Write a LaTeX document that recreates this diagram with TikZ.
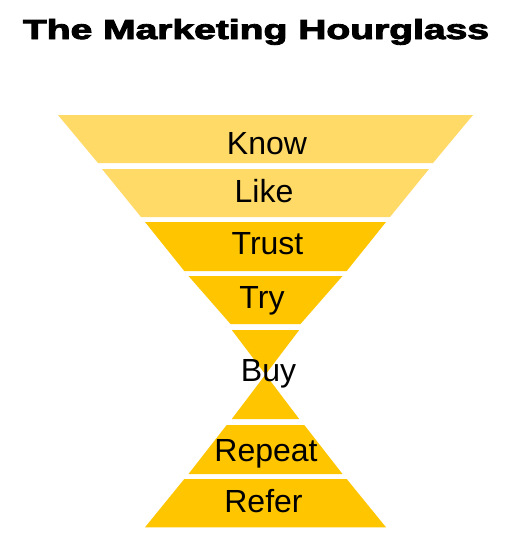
\documentclass[tikz,border=0pt]{standalone}
\usepackage{fontspec}
\usepackage{graphicx}
\setmainfont{Liberation Sans}
\newfontfamily\titlefont{Liberation Sans Bold}[FakeBold=3]
\definecolor{lightgold}{HTML}{FFDA66}
\definecolor{gold}{HTML}{FFC600}
\tikzset{
  lbl/.style={anchor=base, inner sep=0pt, text=black, font=\fontsize{32}{38}\selectfont},
  light/.style={fill=lightgold},
  dark/.style={fill=gold}
}
\begin{document}
\begin{tikzpicture}[x=1pt,y=-1pt]
\useasboundingbox (0,0) rectangle (513,542);
\fill[white] (0,0) rectangle (513,542);
% title
\node[anchor=base, inner sep=0pt] (title) at (256,39) {\resizebox{466pt}{20pt}{\titlefont The Marketing Hourglass}};
% bands
\fill[light] (58,115) -- (473,115) -- (433,163) -- (98,163) -- cycle;
\fill[light] (102,169) -- (429,169) -- (390,217) -- (141,217) -- cycle;
\fill[dark] (145,222) -- (386,222) -- (346.7,271) -- (184.3,271) -- cycle;
\fill[dark] (188.5,276) -- (342.5,276) -- (300.5,324) -- (230.5,324) -- cycle;
\fill[dark] (231.8,330) -- (299.2,330) -- (265.5,374.5) -- cycle;
\fill[dark] (265.5,374.5) -- (299.2,419) -- (231.8,419) -- cycle;
\fill[dark] (226.7,425) -- (304.3,425) -- (342.5,474) -- (188.5,474) -- cycle;
\fill[dark] (184.3,479) -- (346.7,479) -- (386,527.3) -- (145,527.3) -- cycle;
% labels
\node[lbl] (know) at (267,154.3) {Know};
\node[lbl] (like) at (264,202.7) {Like};
\node[lbl] (trust) at (267.5,254.3) {Trust};
\node[lbl] (try) at (262,308.3) {Try};
\node[lbl] (buy) at (268.5,381) {Buy};
\node[lbl] (repeat) at (266,461) {Repeat};
\node[lbl] (refer) at (263.5,512.7) {Refer};
\end{tikzpicture}
\end{document}
